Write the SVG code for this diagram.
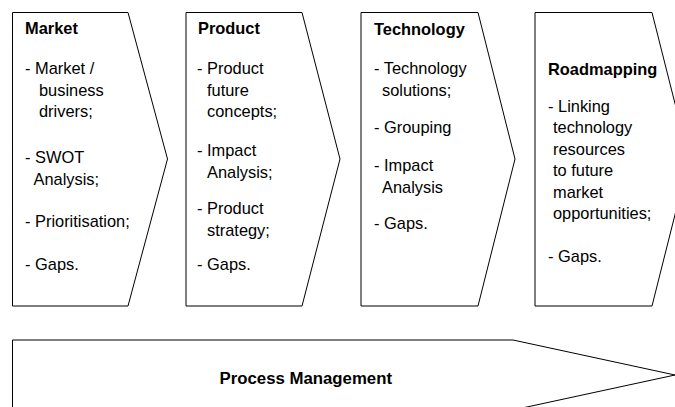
<svg xmlns="http://www.w3.org/2000/svg" width="675" height="407" viewBox="0 0 675 407">
<style>
.shape{fill:#fff;stroke:#000;stroke-width:1}
.t{font-family:"Liberation Sans",Arial,sans-serif;font-size:16.4px;fill:#000}
.b{font-weight:bold}
</style>
<rect width="675" height="407" fill="#fff"/>
<g id="market">
<polygon class="shape" points="12.5,12.5 128,12.5 167.5,159 128,306 12.5,306"/>
<text class="t b" x="25" y="34">Market</text>
<text class="t"><tspan x="25" y="74">- Market /</tspan><tspan x="39" y="95.5">business</tspan><tspan x="39" y="117">drivers;</tspan><tspan x="25" y="163">- SWOT</tspan><tspan x="33.5" y="184.5">Analysis;</tspan><tspan x="25" y="227">- Prioritisation;</tspan><tspan x="25" y="270">- Gaps.</tspan></text>
</g>
<g id="product">
<polygon class="shape" points="186,12.5 302,12.5 340,159 302,306 186,306"/>
<text class="t b" x="198" y="34">Product</text>
<text class="t"><tspan x="197" y="74">- Product</tspan><tspan x="207" y="95.5">future</tspan><tspan x="207" y="117">concepts;</tspan><tspan x="197" y="156">- Impact</tspan><tspan x="207" y="177.5">Analysis;</tspan><tspan x="197" y="214">- Product</tspan><tspan x="207" y="235.5">strategy;</tspan><tspan x="197" y="270">- Gaps.</tspan></text>
</g>
<g id="technology">
<polygon class="shape" points="361,12.5 478,12.5 515,159 478,306 361,306"/>
<text class="t b" x="374" y="34.5">Technology</text>
<text class="t"><tspan x="374" y="74">- Technology</tspan><tspan x="382" y="95.5">solutions;</tspan><tspan x="374" y="133">- Grouping</tspan><tspan x="374" y="171">- Impact</tspan><tspan x="382" y="192.5">Analysis</tspan><tspan x="374" y="229">- Gaps.</tspan></text>
</g>
<g id="roadmapping">
<polygon class="shape" points="535,12.5 652,12.5 689,159 652,306 535,306"/>
<text class="t b" x="548" y="74.5">Roadmapping</text>
<text class="t"><tspan x="548" y="111.5">- Linking</tspan><tspan x="553" y="133">technology</tspan><tspan x="553" y="154.5">resources</tspan><tspan x="553" y="176">to future</tspan><tspan x="553" y="197.5">market</tspan><tspan x="553" y="219">opportunities;</tspan><tspan x="548" y="261.5">- Gaps.</tspan></text>
</g>
<g id="process-management">
<polygon class="shape" points="12.5,340 513,340 675,375 513,410 12.5,410"/>
<text class="t b" x="219.5" y="384" style="font-size:16.8px">Process Management</text>
</g>
</svg>
